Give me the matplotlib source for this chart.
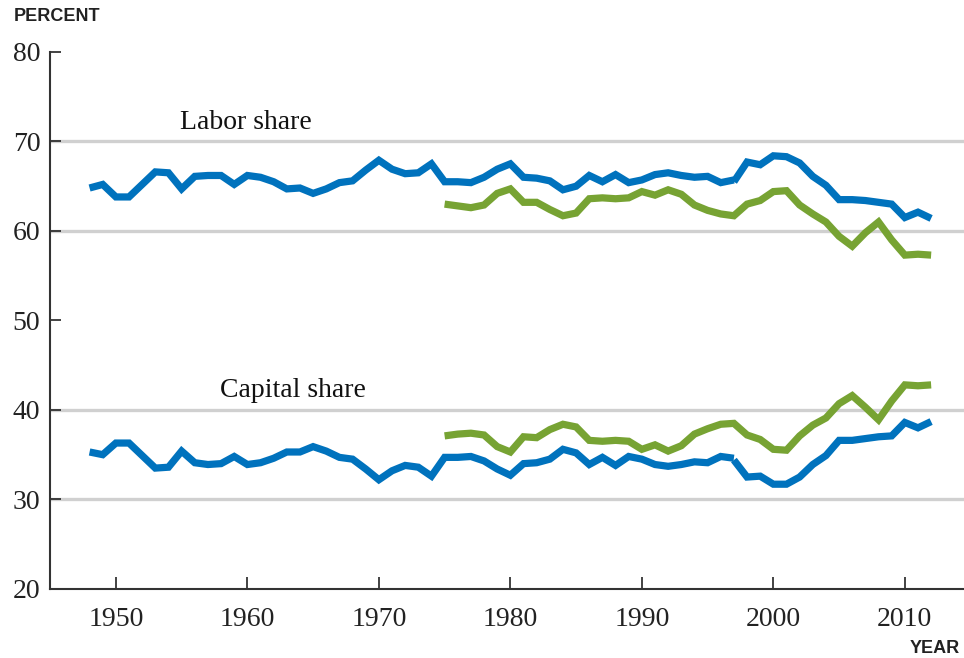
import matplotlib.pyplot as plt
import numpy as np

# Labor and capital shares of income, percent
years_old = np.arange(1948, 1998)          # blue series, first vintage
years_new = np.arange(1997, 2013)          # blue series, revised vintage
years_green = np.arange(1975, 2013)

labor_blue_old = [64.8, 65.2, 63.8, 63.8, 65.2, 66.6, 66.5, 64.7, 66.1, 66.2,
                  66.2, 65.2, 66.2, 66.0, 65.5, 64.7, 64.8, 64.2, 64.7, 65.4,
                  65.6, 66.8, 67.9, 66.9, 66.4, 66.5, 67.5, 65.5, 65.5, 65.4,
                  66.0, 66.9, 67.5, 66.0, 65.9, 65.6, 64.6, 65.0, 66.2, 65.5,
                  66.3, 65.4, 65.7, 66.3, 66.5, 66.2, 66.0, 66.1, 65.4, 65.7]
labor_blue_new = [65.5, 67.7, 67.4, 68.4, 68.3, 67.6, 66.1, 65.1, 63.5, 63.5,
                  63.4, 63.2, 63.0, 61.5, 62.1, 61.4]
labor_green = [63.0, 62.8, 62.6, 62.9, 64.2, 64.7, 63.2, 63.2, 62.4, 61.7,
               62.0, 63.6, 63.7, 63.6, 63.7, 64.4, 64.0, 64.6, 64.1, 62.9,
               62.3, 61.9, 61.7, 63.0, 63.4, 64.4, 64.5, 62.9, 61.9, 61.0,
               59.4, 58.3, 59.8, 61.0, 59.0, 57.3, 57.4, 57.3]

capital_blue_old = [35.3, 35.0, 36.3, 36.3, 34.9, 33.5, 33.6, 35.4, 34.1, 33.9,
                    34.0, 34.8, 33.9, 34.1, 34.6, 35.3, 35.3, 35.9, 35.4, 34.7,
                    34.5, 33.4, 32.2, 33.2, 33.8, 33.6, 32.6, 34.7, 34.7, 34.8,
                    34.3, 33.4, 32.7, 34.0, 34.1, 34.5, 35.6, 35.2, 33.9, 34.7,
                    33.8, 34.8, 34.5, 33.9, 33.7, 33.9, 34.2, 34.1, 34.8, 34.6]
capital_blue_new = [34.4, 32.5, 32.6, 31.7, 31.7, 32.5, 33.9, 34.9, 36.6, 36.6,
                    36.8, 37.0, 37.1, 38.6, 38.0, 38.7]
capital_green = [37.1, 37.3, 37.4, 37.2, 35.9, 35.3, 37.0, 36.9, 37.8, 38.4,
                 38.1, 36.6, 36.5, 36.6, 36.5, 35.6, 36.1, 35.4, 36.0, 37.3,
                 37.9, 38.4, 38.5, 37.2, 36.7, 35.6, 35.5, 37.1, 38.3, 39.1,
                 40.7, 41.6, 40.3, 38.9, 41.0, 42.8, 42.7, 42.8]

yticks = [20, 30, 40, 50, 60, 70, 80]
xticks = [1950, 1960, 1970, 1980, 1990, 2000, 2010]
grid_at = [30, 40, 60, 70]

blue = '#0072bd'
green = '#77a333'

fig = plt.figure(figsize=(9.64, 6.58), dpi=100)
ax = fig.add_axes([0.052, 0.105, 0.948, 0.816])

for g in grid_at:
    ax.axhline(g, color='#d0d0d0', lw=2.4, zorder=1)

lw = 5.2
style = dict(lw=lw, solid_joinstyle='miter', solid_capstyle='butt')
ax.plot(years_old, labor_blue_old, color=blue, zorder=3, **style)
ax.plot(years_new, labor_blue_new, color=blue, zorder=3, **style)
ax.plot(years_green, labor_green, color=green, zorder=2, **style)
ax.plot(years_old, capital_blue_old, color=blue, zorder=3, **style)
ax.plot(years_new, capital_blue_new, color=blue, zorder=3, **style)
ax.plot(years_green, capital_green, color=green, zorder=2, **style)

ax.set_xlim(1945, 2014.5)
ax.set_ylim(20, 80)
ax.set_xticks(xticks)
ax.set_yticks(yticks)

serif = 'Liberation Serif'
ax.set_xticklabels([str(t) for t in xticks], family=serif, fontsize=20)
ax.set_yticklabels([str(t) for t in yticks], family=serif, fontsize=20)
ax.tick_params(axis='x', direction='in', length=9, width=1.2, pad=13, colors='#222222')
ax.tick_params(axis='y', direction='in', length=8, width=1.2, pad=7, colors='#222222')

for s in ['top', 'right']:
    ax.spines[s].set_visible(False)
for s in ['left', 'bottom']:
    ax.spines[s].set_color('#333333')
    ax.spines[s].set_linewidth(1.5)

ax.text(1954.9, 72.1, 'Labor share', family=serif, fontsize=20, va='center', color='#111111')
ax.text(1957.9, 42.2, 'Capital share', family=serif, fontsize=20, va='center', color='#111111')

fig.text(0.014, 0.975, 'PERCENT', family='Liberation Sans', weight='bold', fontsize=13,
         va='center', ha='left', color='#222222')
fig.text(0.996, 0.015, 'YEAR', family='Liberation Sans', weight='bold', fontsize=13,
         va='center', ha='right', color='#222222')

fig.savefig('out.png', dpi=100)
